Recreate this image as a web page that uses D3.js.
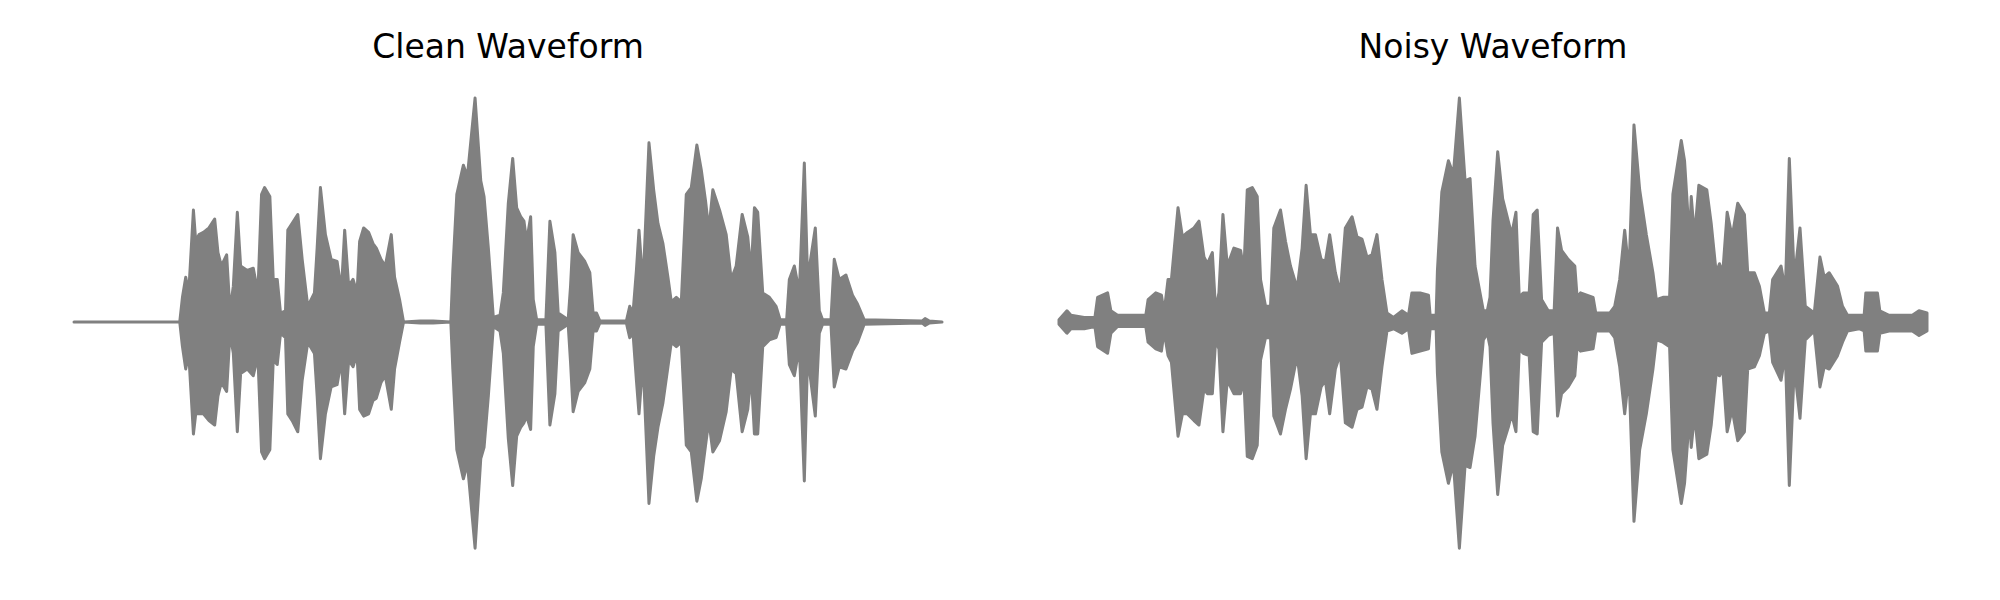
<!DOCTYPE html>
<html>
<head>
<meta charset="utf-8">
<script src="https://cdn.jsdelivr.net/npm/d3@7"></script>
<style>
  html, body { margin: 0; padding: 0; background: #ffffff; }
  svg { display: block; }
</style>
</head>
<body>
<svg id="chart" width="2000" height="600"></svg>
<script>
// ---- Data (envelope; time in frames, amplitude normalised) ----
const panelTitles = ["Clean Waveform", "Noisy Waveform"];

const cleanTime = [0,106,108.7,112,115,119.7,122,125.3,129.7,135.3,141,144.3,147.7,153,156.3,159.7,163.7,167,173.7,179.7,184.3,188,191,196.3,199.7,203.7,207,212,214.3,218.7,224.3,228.7,234.3,241,243.7,247,252,257.7,263.7,268,271.3,275.3,279.7,283.7,286.3,290.3,295.3,299.7,303,307.7,312,318,321.3,326.3,330.3,347,360,377.7,379.7,383.7,390.3,394.3,402,407.7,411,415.3,420.3,427,430.3,435.3,439.7,443.7,447.7,451,453.7,457.7,460.3,463.7,473,477,482,485.3,495.3,497.7,500.3,505.3,512,517,520.3,523.7,527,553.7,557,560.3,563.7,566.3,570.3,576.3,581,585.3,590.3,595.3,598.7,603.7,608.7,613.7,618.7,624.3,628.7,633,636.3,640.3,647,653.7,658.7,663.7,669.7,675.3,678.7,682,685.3,690.3,697,703.7,707.7,714.3,717,722,727,732,735.3,743,747,750.3,758.7,762,767,773.7,780.3,785.3,792,850.3,853,857,870];
const cleanUpper = [0,0,0.11,0.20,0.13,0.50,0.36,0.39,0.40,0.42,0.46,0.31,0.25,0.30,0.05,0.16,0.49,0.25,0.23,0.24,0.13,0.57,0.60,0.56,0.19,0.19,0.04,0.05,0.41,0.44,0.48,0.28,0.07,0.13,0.33,0.60,0.39,0.28,0.27,0.14,0.41,0.16,0.19,0.13,0.36,0.42,0.40,0.35,0.33,0.28,0.25,0.39,0.20,0.10,0,0.005,0.005,0,0.23,0.57,0.70,0.65,1.00,0.63,0.56,0.33,0.02,0.03,0.13,0.53,0.73,0.51,0.47,0.45,0.36,0.47,0.10,0.01,0.01,0.45,0.31,0.04,0.01,0.16,0.39,0.31,0.27,0.22,0.04,0.04,0.005,0.005,0.07,0.04,0.23,0.41,0.16,0.80,0.59,0.44,0.35,0.20,0.09,0.11,0.09,0.57,0.60,0.79,0.68,0.54,0.41,0.59,0.50,0.39,0.19,0.25,0.48,0.38,0.22,0.51,0.49,0.13,0.11,0.07,0.01,0.01,0.19,0.25,0.13,0.71,0.19,0.42,0.05,0.01,0.01,0.28,0.19,0.21,0.12,0.08,0.01,0.005,0.015,0.005,0];
const cleanLower = [0,0,-0.11,-0.21,-0.14,-0.50,-0.41,-0.41,-0.41,-0.44,-0.46,-0.33,-0.27,-0.31,-0.05,-0.14,-0.49,-0.23,-0.21,-0.24,-0.15,-0.58,-0.61,-0.57,-0.17,-0.19,-0.05,-0.07,-0.41,-0.44,-0.49,-0.26,-0.09,-0.14,-0.33,-0.61,-0.41,-0.29,-0.28,-0.17,-0.41,-0.17,-0.20,-0.14,-0.39,-0.42,-0.41,-0.35,-0.34,-0.27,-0.24,-0.39,-0.21,-0.09,0,-0.005,-0.005,0,-0.21,-0.57,-0.70,-0.63,-1.01,-0.61,-0.56,-0.33,-0.02,-0.04,-0.14,-0.52,-0.73,-0.51,-0.47,-0.45,-0.42,-0.48,-0.11,-0.01,-0.01,-0.46,-0.32,-0.04,-0.01,-0.18,-0.40,-0.31,-0.27,-0.21,-0.04,-0.04,-0.005,-0.005,-0.07,-0.05,-0.26,-0.41,-0.17,-0.81,-0.60,-0.47,-0.36,-0.20,-0.09,-0.11,-0.09,-0.55,-0.58,-0.80,-0.70,-0.55,-0.44,-0.58,-0.53,-0.40,-0.21,-0.23,-0.49,-0.39,-0.23,-0.50,-0.50,-0.11,-0.08,-0.07,-0.01,-0.01,-0.19,-0.24,-0.11,-0.71,-0.15,-0.42,-0.05,-0.01,-0.01,-0.29,-0.20,-0.21,-0.13,-0.09,-0.01,-0.005,-0.015,-0.005,0];

const noisyTime = [0,8,12,25.3,36,38.7,48.7,52,58.7,72,87,89.3,97,102.7,105.3,109.3,112.7,119.3,123.7,128.7,135.3,140.3,145.3,148.7,153.7,157,160.3,164.3,168.7,175.3,182,185.3,188.7,193.7,198.7,202,207,212,215.3,222,227,232,238.7,243.7,247.7,252,257,262.7,267,271.3,277,282,287,293.7,298.7,303.7,308.7,313.7,318.7,323.7,328.7,335.3,343.7,350.3,353.7,362,370.3,372,378,379.3,383.7,390.3,395.3,401.3,407,412,417,425.3,429.3,432,435,439.7,444.7,450.3,453.7,458,461.3,465.3,471.3,475.3,479.3,483.7,490.3,496.3,499.7,503.7,510.3,517,519.3,522.7,535.3,538,552,557,562,567,571.3,576.3,582,588.7,595.3,598.7,605.3,612,615.3,623.7,627,632,633.7,637,641.3,649.3,653.7,658.7,662,665.3,669.7,674.7,680.3,687,690.3,697,702,707,712,715.3,723.7,728,732,737,742.7,748,757,762.7,767,772,780.3,785.3,790.3,802,807,808.7,820.3,822.7,832,845.3,855.3,862,870];
const noisyUpper = [0.01,0.05,0.03,0.02,0.02,0.11,0.13,0.05,0.03,0.03,0.03,0.10,0.13,0.12,0.04,0.19,0.19,0.51,0.38,0.40,0.42,0.45,0.29,0.26,0.31,0.05,0.13,0.48,0.25,0.33,0.32,0.23,0.59,0.60,0.56,0.19,0.07,0.07,0.42,0.50,0.36,0.25,0.15,0.33,0.61,0.39,0.39,0.28,0.27,0.39,0.22,0.13,0.42,0.47,0.38,0.37,0.29,0.30,0.39,0.19,0.04,0.02,0.05,0.03,0.13,0.13,0.12,0.03,0.03,0.23,0.58,0.72,0.66,1.00,0.63,0.64,0.25,0.05,0.05,0.11,0.45,0.76,0.55,0.45,0.39,0.49,0.11,0.13,0.13,0.48,0.50,0.10,0.05,0.05,0.42,0.32,0.28,0.25,0.11,0.13,0.11,0.04,0.04,0.07,0.19,0.41,0.22,0.88,0.59,0.39,0.22,0.10,0.11,0.11,0.57,0.81,0.72,0.36,0.56,0.38,0.61,0.59,0.44,0.22,0.26,0.22,0.49,0.38,0.53,0.48,0.22,0.22,0.16,0.04,0.04,0.19,0.25,0.14,0.73,0.19,0.42,0.07,0.04,0.29,0.20,0.22,0.16,0.07,0.03,0.03,0.03,0.13,0.13,0.05,0.03,0.03,0.03,0.05,0.04];
const noisyLower = [-0.01,-0.05,-0.03,-0.03,-0.02,-0.11,-0.14,-0.05,-0.02,-0.02,-0.02,-0.09,-0.12,-0.13,-0.04,-0.15,-0.18,-0.51,-0.41,-0.41,-0.44,-0.46,-0.30,-0.32,-0.32,-0.08,-0.12,-0.49,-0.26,-0.32,-0.32,-0.26,-0.60,-0.61,-0.55,-0.17,-0.07,-0.07,-0.42,-0.50,-0.39,-0.30,-0.15,-0.33,-0.61,-0.41,-0.41,-0.29,-0.26,-0.41,-0.21,-0.14,-0.45,-0.47,-0.39,-0.38,-0.29,-0.30,-0.39,-0.20,-0.04,-0.03,-0.05,-0.03,-0.14,-0.13,-0.12,-0.03,-0.03,-0.23,-0.58,-0.72,-0.63,-1.01,-0.64,-0.65,-0.51,-0.08,-0.05,-0.11,-0.45,-0.77,-0.55,-0.47,-0.41,-0.49,-0.12,-0.14,-0.15,-0.49,-0.50,-0.09,-0.06,-0.05,-0.42,-0.32,-0.29,-0.24,-0.11,-0.13,-0.12,-0.04,-0.04,-0.07,-0.20,-0.41,-0.23,-0.89,-0.57,-0.41,-0.21,-0.08,-0.09,-0.11,-0.57,-0.81,-0.72,-0.41,-0.56,-0.41,-0.61,-0.59,-0.46,-0.23,-0.24,-0.21,-0.49,-0.39,-0.53,-0.49,-0.21,-0.20,-0.15,-0.05,-0.04,-0.18,-0.26,-0.14,-0.73,-0.20,-0.43,-0.08,-0.04,-0.29,-0.20,-0.21,-0.15,-0.09,-0.04,-0.03,-0.04,-0.13,-0.13,-0.05,-0.04,-0.04,-0.04,-0.06,-0.04];

// ---- Drawing ----
const svg = d3.select("#chart");
const color = "#808080";
const panels = [
  { title: panelTitles[0], t: cleanTime, hi: cleanUpper, lo: cleanLower, x0: 74, x1: 942 },
  { title: panelTitles[1], t: noisyTime, hi: noisyUpper, lo: noisyLower, x0: 1059, x1: 1927 }
];

const y = d3.scaleLinear().domain([-1, 1]).range([546, 98]);

panels.forEach(p => {
  const x = d3.scaleLinear().domain([0, 870]).range([p.x0, p.x1]);
  const rows = p.t.map((t, i) => ({ t: t, hi: p.hi[i], lo: p.lo[i] }));
  const area = d3.area()
    .x(d => x(d.t))
    .y0(d => y(d.lo))
    .y1(d => y(d.hi))
    .curve(d3.curveLinear);
  svg.append("path")
    .datum(rows)
    .attr("d", area)
    .attr("fill", color)
    .attr("stroke", color)
    .attr("stroke-width", 3)
    .attr("stroke-linejoin", "round");

  svg.append("text")
    .attr("x", (p.x0 + p.x1) / 2)
    .attr("y", 58)
    .attr("text-anchor", "middle")
    .attr("font-family", "DejaVu Sans, sans-serif")
    .attr("font-size", 33)
    .attr("fill", "#000000")
    .text(p.title);
});
</script>
</body>
</html>
